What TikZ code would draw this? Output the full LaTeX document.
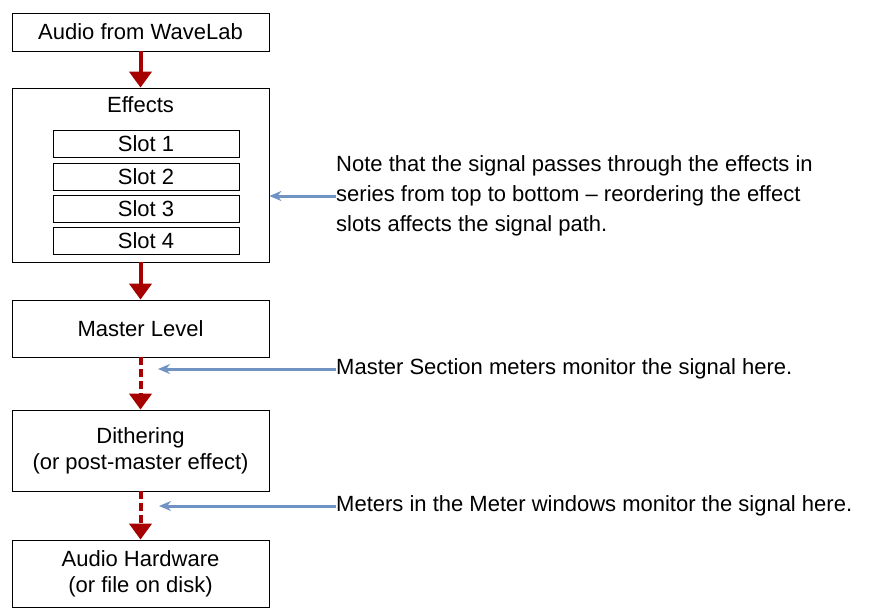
\documentclass[tikz,border=0pt]{standalone}
\usepackage{fontspec}
\setmainfont{Liberation Sans}
\usetikzlibrary{arrows.meta,positioning,calc}
\definecolor{pointerblue}{RGB}{112,147,196}

\begin{document}
\begin{tikzpicture}[
    x=1pt, y=-1pt,
    font=\fontsize{22}{26}\selectfont,
    block/.style={rectangle, draw, thick, minimum width=257pt, align=center, inner sep=0pt},
    slot/.style={rectangle, draw, thick, minimum width=186pt, minimum height=27pt, inner sep=0pt},
    flow/.style={-{Triangle[length=16pt,width=22pt]}, line width=4pt, red!65!black},
    pointer/.style={-{Stealth[length=12pt,width=10pt]}, line width=3pt, pointerblue},
    note/.style={anchor=west, align=left, inner sep=0pt}
]
\useasboundingbox (0,0) rectangle (870,610);

% Processing chain
\node[block, minimum height=38pt] (wavelab) at (140.5,32) {Audio from WaveLab};
\node[block, minimum height=174pt] (effects) at (140.5,175) {};
\node[anchor=north] (efftitle) at (140.5,93) {Effects};
\node[slot] (slot1) at (146,144) {Slot 1};
\node[slot] (slot2) at (146,176.5) {Slot 2};
\node[slot] (slot3) at (146,208.5) {Slot 3};
\node[slot] (slot4) at (146,241) {Slot 4};
\node[block, minimum height=57pt] (master) at (140.5,328.5) {Master Level};
\node[block, minimum height=81pt] (dither) at (140.5,450.5) {Dithering\\(or post-master effect)};
\node[block, minimum height=67pt] (hardware) at (140.5,573.5) {Audio Hardware\\(or file on disk)};

% Signal flow
\draw[flow] (wavelab) -- (effects);
\draw[flow] (effects) -- (master);
\draw[flow, dash pattern=on 8pt off 4pt] (master) -- (dither);
\draw[flow, dash pattern=on 8pt off 4pt] (dither) -- (hardware);

% Notes
\node[note, font=\fontsize{22}{30}\selectfont] (note1) at (336,196) {Note that the signal passes through the effects in\\series from top to bottom -- reordering the effect\\slots affects the signal path.};
\node[note] (note2) at (336,369) {Master Section meters monitor the signal here.};
\node[note] (note3) at (336,506) {Meters in the Meter windows monitor the signal here.};
\coordinate (tap1) at (158,369);
\coordinate (tap2) at (159,506);

\draw[pointer] (note1.west) -- (effects.east |- note1.west);
\draw[pointer] (note2.west) -- (tap1);
\draw[pointer] (note3.west) -- (tap2);
\end{tikzpicture}
\end{document}
